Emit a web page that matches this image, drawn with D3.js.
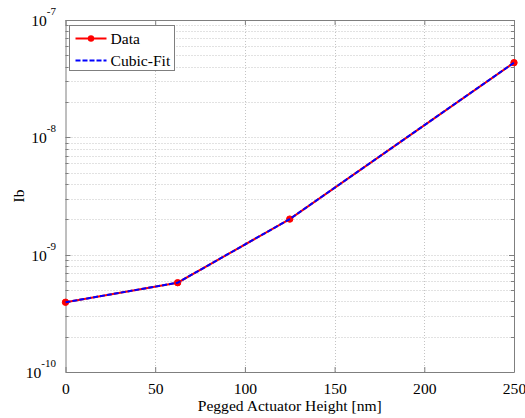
<!DOCTYPE html>
<html>
<head>
<meta charset="utf-8">
<script src="https://cdn.jsdelivr.net/npm/d3@7"></script>
<style>
  body { margin: 0; background: #fff; }
  svg { display: block; }
</style>
</head>
<body>
<div id="chart"></div>
<script>
// data
var heights = [0, 62.5, 125, 250];
var ibData = [3.93e-10, 5.77e-10, 2.01e-9, 4.33e-8];
var ibFit = [3.93e-10, 5.77e-10, 2.01e-9, 4.33e-8];
var xTicks = [0, 50, 100, 150, 200, 250];
var yDecades = [-10, -9, -8, -7];
var legendNames = ['Data', 'Cubic-Fit'];

var W = 525, H = 418;
var margin = {left: 65.5, right: 11, top: 20, bottom: 46};
var serif = '"Liberation Serif", "Times New Roman", "DejaVu Serif", serif';
var fs = '15.6px';

var svg = d3.select('#chart').append('svg')
	.attr('width', W)
	.attr('height', H);

var x = d3.scaleLinear().domain([0, 250]).range([margin.left, W - margin.right]);
var y = d3.scaleLog().domain([1e-10, 1e-7]).range([H - margin.bottom, margin.top]);

var x0 = x.range()[0], x1 = x.range()[1];
var y0 = y.range()[0], y1 = y.range()[1];

// minor + major log values for the grid
var logVals = [];
for (var d = -10; d < -7; d++) {
	for (var m = 1; m < 10; m++) logVals.push(m * Math.pow(10, d));
}
logVals.push(1e-7);

var grid = svg.append('g').attr('class', 'grid');
grid.selectAll('line.h').data(logVals.filter(function (v) { return v > 1e-10 && v < 1e-7; }))
	.enter().append('line')
	.attr('x1', x0).attr('x2', x1)
	.attr('y1', function (v) { return Math.round(y(v)) + 0.5; })
	.attr('y2', function (v) { return Math.round(y(v)) + 0.5; })
	.attr('stroke', '#c4c4c4').attr('stroke-width', 1).attr('stroke-dasharray', '1,2');
grid.selectAll('line.v').data(xTicks.slice(1, -1))
	.enter().append('line')
	.attr('y1', y0).attr('y2', y1)
	.attr('x1', function (v) { return Math.round(x(v)) + 0.5; })
	.attr('x2', function (v) { return Math.round(x(v)) + 0.5; })
	.attr('stroke', '#c4c4c4').attr('stroke-width', 1).attr('stroke-dasharray', '1,2');

// axes (MATLAB style: ticks pointing in, box all round)
var axisColor = '#7f7f7f';
var xAxis = d3.axisBottom(x).tickValues(xTicks).tickSizeInner(-5).tickSizeOuter(0).tickPadding(10.5);
var gx = svg.append('g').attr('transform', 'translate(0,' + y0 + ')').call(xAxis);
gx.select('.domain').attr('stroke', axisColor);
gx.selectAll('.tick line').attr('stroke', axisColor);
gx.selectAll('.tick text').attr('fill', '#000').style('font-size', fs).style('font-family', serif);

var gxTop = svg.append('g').attr('transform', 'translate(0,' + y1 + ')')
	.call(d3.axisTop(x).tickValues(xTicks).tickSizeInner(-5).tickSizeOuter(0).tickFormat(''));
gxTop.select('.domain').attr('stroke', axisColor);
gxTop.selectAll('.tick line').attr('stroke', axisColor);

var yLeft = svg.append('g').attr('transform', 'translate(' + x0 + ',0)')
	.call(d3.axisLeft(y).tickValues([]).tickSizeOuter(0));
yLeft.select('.domain').attr('stroke', axisColor);
var yRight = svg.append('g').attr('transform', 'translate(' + x1 + ',0)')
	.call(d3.axisRight(y).tickValues([]).tickSizeOuter(0));
yRight.select('.domain').attr('stroke', axisColor);

// log ticks on both sides: major 5px, minor 3px
[x0, x1].forEach(function (xp, i) {
	var dir = i === 0 ? 1 : -1;
	svg.append('g').selectAll('line').data(logVals).enter().append('line')
		.attr('x1', xp)
		.attr('x2', function (v) {
			var isMajor = Math.abs(Math.log10(v) - Math.round(Math.log10(v))) < 1e-9;
			return xp + dir * (isMajor ? 5 : 3);
		})
		.attr('y1', function (v) { return Math.round(y(v)) + 0.5; })
		.attr('y2', function (v) { return Math.round(y(v)) + 0.5; })
		.attr('stroke', axisColor);
});

// y tick labels 10^n
var yl = svg.append('g').selectAll('text').data(yDecades).enter().append('text')
	.attr('x', x0 - 9.5)
	.attr('y', function (n) { return y(Math.pow(10, n)) + 6; })
	.attr('text-anchor', 'end')
	.style('font-family', serif)
	.style('font-size', fs);
yl.append('tspan').text('10');
yl.append('tspan').attr('dy', -11).style('font-size', '11px').text(function (n) { return String(n); });

// axis titles
svg.append('text')
	.attr('x', (x0 + x1) / 2)
	.attr('y', H - 7)
	.attr('text-anchor', 'middle')
	.style('font-family', serif)
	.style('font-size', fs)
	.text('Pegged Actuator Height [nm]');
svg.append('text')
	.attr('transform', 'translate(23.5,' + ((y0 + y1) / 2) + ') rotate(-90)')
	.attr('text-anchor', 'middle')
	.style('font-family', serif)
	.style('font-size', fs)
	.text('Ib');

// data and fit
var line = d3.line()
	.x(function (d) { return x(d[0]); })
	.y(function (d) { return y(d[1]); });

var dataPts = heights.map(function (h, i) { return [h, ibData[i]]; });
var fitPts = heights.map(function (h, i) { return [h, ibFit[i]]; });

svg.append('path').datum(dataPts)
	.attr('d', line).attr('fill', 'none')
	.attr('stroke', '#ff0000').attr('stroke-width', 2);
svg.append('g').selectAll('circle').data(dataPts).enter().append('circle')
	.attr('cx', function (d) { return x(d[0]); })
	.attr('cy', function (d) { return y(d[1]); })
	.attr('r', 3.2)
	.attr('fill', '#ff0000').attr('stroke', '#ff0000').attr('stroke-width', 1);
svg.append('path').datum(fitPts)
	.attr('d', line).attr('fill', 'none')
	.attr('stroke', '#0000ff').attr('stroke-width', 2).attr('stroke-dasharray', '5,2');

// legend
var lg = svg.append('g').attr('transform', 'translate(69.5,25.5)');
lg.append('rect').attr('width', 105).attr('height', 45)
	.attr('fill', '#fff').attr('stroke', '#7f7f7f');
var rowsY = [13, 35];
legendNames.forEach(function (name, i) {
	var ly = rowsY[i];
	lg.append('line').attr('x1', 6).attr('x2', 37).attr('y1', ly).attr('y2', ly)
		.attr('stroke', i === 0 ? '#ff0000' : '#0000ff')
		.attr('stroke-width', 2)
		.attr('stroke-dasharray', i === 0 ? null : '5,2');
	if (i === 0) {
		lg.append('circle').attr('cx', 21.5).attr('cy', ly).attr('r', 3.2).attr('fill', '#ff0000');
	}
	lg.append('text').attr('x', 41).attr('y', ly + 5)
		.style('font-family', serif).style('font-size', fs).text(name);
});
</script>
</body>
</html>
